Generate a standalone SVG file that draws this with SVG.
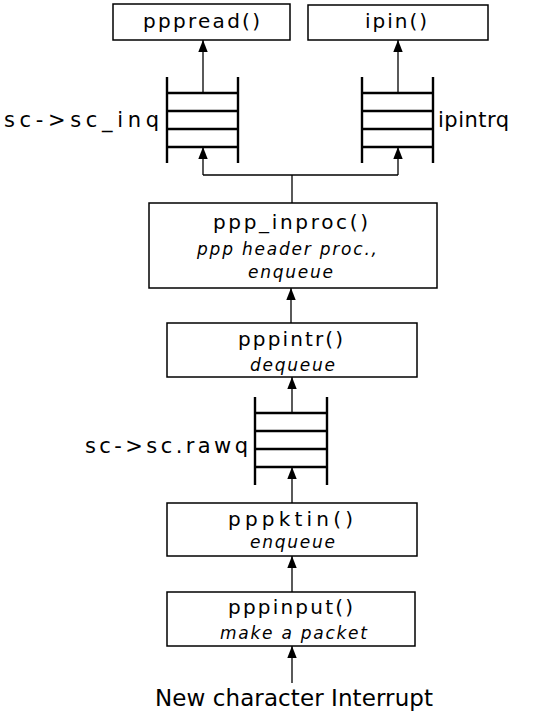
<svg xmlns="http://www.w3.org/2000/svg" width="533" height="712" viewBox="0 0 533 712">
  <style>
    .box { fill: #ffffff; stroke: #000000; stroke-width: 1.5; }
    .q { stroke: #000000; stroke-width: 2.4; fill: none; }
    .conn { stroke: #000000; stroke-width: 1.3; fill: none; }
    .fn { font-family: "DejaVu Sans", "Liberation Sans", sans-serif; font-size: 20px; fill: #000000; }
    .note { font-family: "DejaVu Sans", "Liberation Sans", sans-serif; font-size: 17px; font-style: italic; fill: #000000; }
    .lbl { font-family: "DejaVu Sans", "Liberation Sans", sans-serif; font-size: 21px; fill: #000000; }
    .big { font-family: "DejaVu Sans", "Liberation Sans", sans-serif; font-size: 23px; fill: #000000; }
  </style>
  <defs>
    <marker id="arrow" markerUnits="userSpaceOnUse" markerWidth="12" markerHeight="15" refX="14" refY="5.5" orient="auto" viewBox="0 0 14 11">
      <path d="M0,0 L14,5.5 L0,11 Z" fill="#000000"/>
    </marker>
  </defs>

  <rect width="533" height="712" fill="#ffffff"/>

  <!-- connectors -->
  <g id="connectors">
    <line class="conn" x1="203" y1="93" x2="203" y2="40" marker-end="url(#arrow)"/>
    <line class="conn" x1="398" y1="93" x2="398" y2="40" marker-end="url(#arrow)"/>
    <polyline class="conn" points="292,203 292,175"/>
    <polyline class="conn" points="203,175 398,175"/>
    <line class="conn" x1="203" y1="175" x2="203" y2="147" marker-end="url(#arrow)"/>
    <line class="conn" x1="398" y1="175" x2="398" y2="147" marker-end="url(#arrow)"/>
    <line class="conn" x1="291" y1="323" x2="291" y2="288" marker-end="url(#arrow)"/>
    <line class="conn" x1="292" y1="413" x2="292" y2="377" marker-end="url(#arrow)"/>
    <line class="conn" x1="292" y1="503" x2="292" y2="467" marker-end="url(#arrow)"/>
    <line class="conn" x1="292" y1="592" x2="292" y2="556" marker-end="url(#arrow)"/>
    <line class="conn" x1="292" y1="683" x2="292" y2="646" marker-end="url(#arrow)"/>
  </g>

  <!-- upper functions -->
  <g id="pppread">
    <rect class="box" x="113" y="4" width="177" height="36"/>
    <text class="fn" x="143" y="28" textLength="117" lengthAdjust="spacing">pppread()</text>
  </g>
  <g id="ipin">
    <rect class="box" x="308" y="5" width="180" height="35"/>
    <text class="fn" x="365" y="28" textLength="62" lengthAdjust="spacing">ipin()</text>
  </g>

  <!-- input queues -->
  <g id="sc_inq">
    <path class="q" d="M167,77 V163 M238,77 V163 M167,93 H238 M167,111 H238 M167,129 H238 M167,147 H238"/>
    <text class="lbl" x="4" y="127" textLength="155" lengthAdjust="spacing">sc-&gt;sc_inq</text>
  </g>
  <g id="ipintrq">
    <path class="q" d="M362,77 V163 M433,77 V163 M362,93 H433 M362,111 H433 M362,129 H433 M362,147 H433"/>
    <text class="lbl" x="438" y="127" textLength="71" lengthAdjust="spacing">ipintrq</text>
  </g>

  <g id="ppp_inproc">
    <rect class="box" x="149" y="203" width="288" height="85"/>
    <text class="fn" x="213" y="229" textLength="155" lengthAdjust="spacing">ppp_inproc()</text>
    <text class="note" x="197" y="255" textLength="180" lengthAdjust="spacing">ppp header proc.,</text>
    <text class="note" x="248" y="278" textLength="85" lengthAdjust="spacing">enqueue</text>
  </g>

  <g id="pppintr">
    <rect class="box" x="167" y="323" width="250" height="54"/>
    <text class="fn" x="238" y="346" textLength="105" lengthAdjust="spacing">pppintr()</text>
    <text class="note" x="250" y="371" textLength="85" lengthAdjust="spacing">dequeue</text>
  </g>

  <g id="rawq">
    <path class="q" d="M255,397 V485 M327,397 V485 M255,413 H327 M255,431 H327 M255,449 H327 M255,467 H327"/>
    <text class="lbl" x="85" y="453" textLength="163" lengthAdjust="spacing">sc-&gt;sc.rawq</text>
  </g>

  <g id="pppktin">
    <rect class="box" x="167" y="503" width="250" height="53"/>
    <text class="fn" x="228" y="526" textLength="125" lengthAdjust="spacing">pppktin()</text>
    <text class="note" x="250" y="548" textLength="85" lengthAdjust="spacing">enqueue</text>
  </g>

  <g id="pppinput">
    <rect class="box" x="167" y="592" width="248" height="54"/>
    <text class="fn" x="228" y="614" textLength="125" lengthAdjust="spacing">pppinput()</text>
    <text class="note" x="220" y="639" textLength="147" lengthAdjust="spacing">make a packet</text>
  </g>

  <g id="interrupt">
    <text class="big" x="155" y="706" textLength="278" lengthAdjust="spacing">New character Interrupt</text>
  </g>
</svg>
